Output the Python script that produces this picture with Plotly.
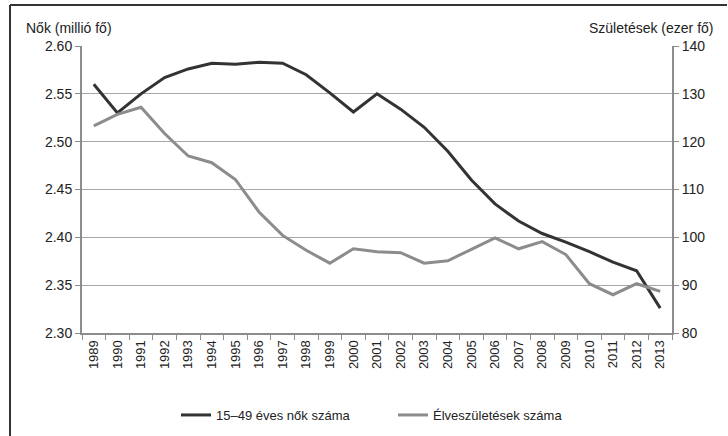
import plotly.graph_objects as go

years = [str(y) for y in range(1989, 2014)]
women = [2.560, 2.530, 2.550, 2.567, 2.576, 2.582, 2.581, 2.583, 2.582, 2.570,
         2.551, 2.531, 2.550, 2.534, 2.515, 2.490, 2.460, 2.435, 2.417, 2.404,
         2.395, 2.385, 2.374, 2.365, 2.326]
births = [123.3, 125.7, 127.2, 121.7, 117.0, 115.6, 112.1, 105.3, 100.4, 97.3,
          94.6, 97.6, 97.0, 96.8, 94.6, 95.1, 97.5, 99.9, 97.6, 99.1,
          96.4, 90.3, 88.0, 90.3, 88.7]

name_women = "15–49 éves nők száma"
name_births = "Élveszületések száma"
left_title = "Nők (millió fő)"
right_title = "Születések (ezer fő)"

W, H = 728, 436
L, R, T, B = 82, 56, 46, 103
pw, ph = W - L - R, H - T - B

def px(x):
    return (x - L) / pw

def py(y):
    return (H - B - y) / ph

fig = go.Figure()
fig.add_trace(go.Scatter(x=years, y=women, name=name_women, mode="lines",
                         line=dict(color="#333333", width=3), yaxis="y"))
fig.add_trace(go.Scatter(x=years, y=births, name=name_births, mode="lines",
                         line=dict(color="#8c8c8c", width=3), yaxis="y2"))

axis_col = "#8c8c8c"
fig.update_layout(
    width=W, height=H,
    margin=dict(l=L, r=R, t=T, b=B, pad=0, autoexpand=False),
    paper_bgcolor="white", plot_bgcolor="white",
    font=dict(family="Liberation Sans, Arial, sans-serif", size=14, color="#222222"),
    showlegend=True,
    legend=dict(orientation="h", x=176 / W, xanchor="left", xref="container",
                y=(H - 415) / H, yanchor="middle", yref="container",
                font=dict(size=13), traceorder="normal",
                entrywidth=172, entrywidthmode="pixels"),
    xaxis=dict(type="category", showgrid=False, showline=True, linecolor=axis_col,
               linewidth=2, ticks="outside", tickson="boundaries", ticklen=5,
               tickcolor=axis_col, tickangle=-90, tickfont=dict(size=13),
               range=[-0.5, len(years) - 0.5], automargin=False),
    yaxis=dict(range=[2.30, 2.60], dtick=0.05, tickformat=".2f", showgrid=True,
               gridcolor="#a6a6a6", gridwidth=1, showline=True, linecolor=axis_col,
               linewidth=2, ticks="outside", ticklen=5, tickcolor=axis_col,
               zeroline=False, tickfont=dict(size=14), automargin=False),
    yaxis2=dict(range=[80, 140], dtick=10, overlaying="y", side="right",
                showgrid=False, showline=True, linecolor=axis_col, linewidth=2,
                ticks="outside", ticklen=5, tickcolor=axis_col, zeroline=False,
                tickfont=dict(size=14), automargin=False),
    annotations=[
        dict(text=left_title, xref="paper", yref="paper", x=px(24), y=py(28),
             xanchor="left", yanchor="middle", showarrow=False, font=dict(size=14)),
        dict(text=right_title, xref="paper", yref="paper", x=px(716), y=py(28),
             xanchor="right", yanchor="middle", showarrow=False, font=dict(size=14)),
    ],
    shapes=[
        dict(type="line", xref="paper", yref="paper", x0=px(10), x1=px(10),
             y0=py(5), y1=py(440), line=dict(color="#333333", width=2)),
        dict(type="line", xref="paper", yref="paper", x0=px(10), x1=px(727),
             y0=py(5), y1=py(5), line=dict(color="#333333", width=2)),
    ],
)

fig.write_html("out.html", config={"displayModeBar": False},
               post_script="document.body.style.margin='0';")
